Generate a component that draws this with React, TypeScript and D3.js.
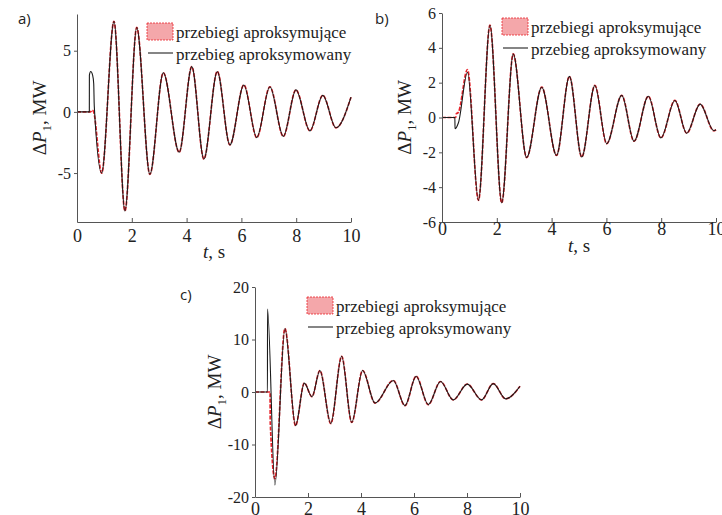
import React, { useEffect, useRef } from 'react';
import * as d3 from 'd3';

// ---- panel a) ----
const headTimeA_black = [0, 0.45, 0.452, 0.5, 0.57, 0.61, 0.63];
const headValA_black = [0, 0, 3.0, 3.3, 3.0, 2.3, 0.5];
const headTimeA_red = [0, 0.5, 0.55, 0.6];
const headValA_red = [0, 0, 0.15, 0.05];
const oscTimeA = [0.9, 1.35, 1.75, 2.18, 2.66, 3.15, 3.73, 4.19, 4.63, 5.12, 5.58, 6.09, 6.56, 7.04, 7.53, 7.99, 8.5, 8.97, 9.45, 10];
const oscValA = [-5.0, 7.4, -8.1, 6.9, -5.1, 3.2, -3.3, 3.7, -3.85, 3.3, -2.7, 2.2, -2.1, 2.05, -2.0, 1.8, -1.55, 1.35, -1.3, 1.2];

// ---- panel b) ----
const headTimeB_black = [0, 0.47, 0.475, 0.6, 0.93];
const headValB_black = [0, 0, -0.65, -0.3, 2.6];
const headTimeB_red = [0, 0.5, 0.52, 0.6, 0.93];
const headValB_red = [0, 0, 0.2, 0.3, 2.75];
const oscTimeB = [1.33, 1.75, 2.18, 2.6, 3.09, 3.64, 4.18, 4.65, 5.1, 5.58, 6.01, 6.56, 7.01, 7.53, 7.99, 8.5, 8.93, 9.42, 9.92, 10];
const oscValB = [-4.76, 5.3, -4.9, 3.65, -2.3, 1.74, -2.18, 2.36, -2.27, 1.84, -1.5, 1.27, -1.36, 1.22, -1.17, 0.98, -0.9, 0.77, -0.76, -0.7];

// ---- panel c) ----
const headTimeC_black = [0, 0.47, 0.472, 0.75];
const headValC_black = [0, 0, 15.8, -17.7];
const headTimeC_red = [0, 0.57, 0.575, 0.75];
const headValC_red = [0, 0, -5.6, -16.5];
const oscTimeC = [1.13, 1.53, 1.86, 2.15, 2.45, 2.86, 3.27, 3.65, 4.06, 4.53, 5.22, 5.66, 6.08, 6.54, 7.0, 7.48, 8.01, 8.55, 8.99, 9.46, 10];
const oscValC = [12.1, -6.4, 1.7, -0.9, 4.1, -6.0, 6.8, -5.8, 4.1, -2.1, 2.2, -2.6, 3.0, -2.4, 2.0, -1.5, 1.5, -1.5, 1.6, -1.3, 1.1];

const xTicks = [0, 2, 4, 6, 8, 10];
const yTicksA = [-5, 0, 5];
const yTicksB = [-6, -4, -2, 0, 2, 4, 6];
const yTicksC = [-20, -10, 0, 10, 20];

const legendLabels = ['przebiegi aproksymujące', 'przebieg aproksymowany'];

const SERIF = 'Liberation Serif';
const SANS = 'Open Sans';
const RED = '#e8232b';
const AXIS = '#555';
const INK = '#222';

const toPoints = (t: number[], v: number[]) => t.map((d, i) => [d, v[i]] as [number, number]);

const panels = [
  {
    tag: 'a)', tagX: 18, tagY: 24,
    left: 77, right: 351, top: 14, bottom: 222, yDomain: [-9, 8], yTicks: yTicksA,
    xPad: 7, xLabelY: 258, yLabelX: 46,
    legX: 147, legY: 23,
    black: toPoints(headTimeA_black.concat(oscTimeA), headValA_black.concat(oscValA)),
    red: toPoints(headTimeA_red.concat(oscTimeA), headValA_red.concat(oscValA)),
    showXLabel: true,
  },
  {
    tag: 'b)', tagX: 375, tagY: 24,
    left: 442, right: 716, top: 13, bottom: 222, yDomain: [-6, 6], yTicks: yTicksB,
    xPad: 0, xLabelY: 252, yLabelX: 411,
    legX: 502, legY: 18,
    black: toPoints(headTimeB_black.concat(oscTimeB), headValB_black.concat(oscValB)),
    red: toPoints(headTimeB_red.concat(oscTimeB), headValB_red.concat(oscValB)),
    showXLabel: true,
  },
  {
    tag: 'c)', tagX: 180, tagY: 300,
    left: 255, right: 520, top: 287, bottom: 497, yDomain: [-20, 20], yTicks: yTicksC,
    xPad: 5, xLabelY: 540, yLabelX: 221,
    legX: 307, legY: 297,
    black: toPoints(headTimeC_black.concat(oscTimeC), headValC_black.concat(oscValC)),
    red: toPoints(headTimeC_red.concat(oscTimeC), headValC_red.concat(oscValC)),
    showXLabel: false,
  },
];

function App() {
  const svgRef = useRef<SVGSVGElement>(null);

  useEffect(() => {
    const svg = d3.select(svgRef.current);
    svg.selectAll('*').remove();

    panels.forEach(p => {
      const g = svg.append('g').style('font-family', SERIF);
      const x = d3.scaleLinear().domain([0, 10]).range([p.left, p.right]);
      const y = d3.scaleLinear().domain(p.yDomain).range([p.bottom, p.top]);

      // curves: red approximations underneath, black approximated curve on top
      const line = d3.line<[number, number]>()
        .x(d => x(d[0]))
        .y(d => y(d[1]))
        .curve(d3.curveMonotoneX);

      g.append('path')
        .attr('d', line(p.red))
        .attr('fill', 'none')
        .attr('stroke', RED)
        .attr('stroke-width', 1.7)
        .attr('stroke-dasharray', '4,1.5');

      g.append('path')
        .attr('d', line(p.black))
        .attr('fill', 'none')
        .attr('stroke', '#1b1b1b')
        .attr('stroke-width', 1.1);

      // x axis
      const gx = g.append('g')
        .attr('transform', `translate(0,${p.bottom})`)
        .call(d3.axisBottom(x).tickValues(xTicks).tickSizeInner(-4).tickSizeOuter(0).tickPadding(p.xPad));
      gx.attr('font-family', null);
      gx.select('.domain').attr('stroke', AXIS);
      gx.selectAll('line').attr('stroke', AXIS);
      gx.selectAll('text')
        .style('font-family', SERIF)
        .attr('font-size', 18)
        .attr('fill', INK);

      // y axis
      const gy = g.append('g')
        .attr('transform', `translate(${p.left},0)`)
        .call(d3.axisLeft(y).tickValues(p.yTicks).tickSizeInner(3).tickSizeOuter(0).tickPadding(3)
          .tickFormat(d => String(d)));
      gy.attr('font-family', null);
      gy.select('.domain').attr('stroke', AXIS);
      gy.selectAll('line').attr('stroke', AXIS);
      gy.selectAll('text')
        .style('font-family', SERIF)
        .attr('font-size', 16)
        .attr('fill', INK);

      // axis titles
      if (p.showXLabel) {
        const xl = g.append('text')
          .attr('x', (p.left + p.right) / 2)
          .attr('y', p.xLabelY)
          .attr('text-anchor', 'middle')
          .attr('font-size', 19)
          .attr('fill', INK);
        xl.append('tspan').attr('font-style', 'italic').text('t');
        xl.append('tspan').text(', s');
      }

      const yl = g.append('text')
        .attr('transform', `translate(${p.yLabelX},${(p.top + p.bottom) / 2}) rotate(-90)`)
        .attr('text-anchor', 'middle')
        .attr('font-size', 19)
        .attr('fill', INK);
      yl.append('tspan').text('Δ');
      yl.append('tspan').attr('font-style', 'italic').text('P');
      yl.append('tspan').attr('font-size', 13).attr('dy', 5).text('1');
      yl.append('tspan').attr('dy', -5).text(', MW');

      // panel tag
      g.append('text')
        .attr('x', p.tagX)
        .attr('y', p.tagY)
        .style('font-family', SANS)
        .attr('font-size', 15)
        .attr('fill', INK)
        .text(p.tag);

      // legend
      const lg = g.append('g').attr('transform', `translate(${p.legX},${p.legY})`);
      lg.append('rect')
        .attr('x', 0).attr('y', 0).attr('width', 26).attr('height', 17)
        .attr('fill', '#f4a7aa')
        .attr('stroke', RED)
        .attr('stroke-width', 0.8)
        .attr('stroke-dasharray', '2,1');
      lg.append('line')
        .attr('x1', 1).attr('x2', 26).attr('y1', 30).attr('y2', 30)
        .attr('stroke', INK).attr('stroke-width', 1.1);
      lg.selectAll('text.leg')
        .data(legendLabels)
        .join('text')
        .attr('class', 'leg')
        .attr('x', 29)
        .attr('y', (d, i) => 15 + i * 22)
        .attr('font-size', 17)
        .attr('fill', INK)
        .text(d => d);
    });
  }, []);

  return (
    <svg
      ref={svgRef}
      width={722}
      height={515}
      style={{ position: 'absolute', left: 0, top: 0, background: '#fff' }}
    />
  );
}

export default App;
